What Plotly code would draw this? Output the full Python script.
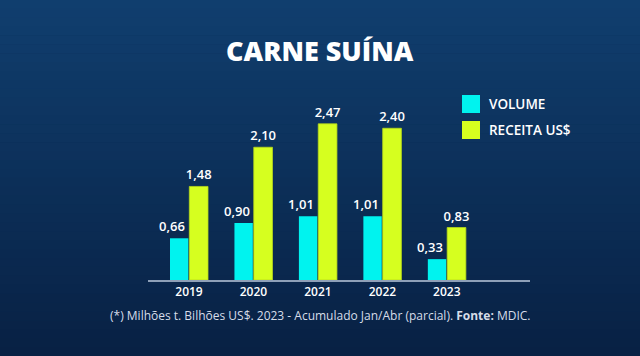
import plotly.graph_objects as go

years = ["2019", "2020", "2021", "2022", "2023"]
volume = [0.66, 0.90, 1.01, 1.01, 0.33]
receita = [1.48, 2.10, 2.47, 2.40, 0.83]
volume_labels = ["0,66", "0,90", "1,01", "1,01", "0,33"]
receita_labels = ["1,48", "2,10", "2,47", "2,40", "0,83"]
series_names = ["VOLUME", "RECEITA US$"]

CYAN = "#00f3ef"
LIME = "#d6ff1f"
FONT = "Open Sans"

x_idx = list(range(len(years)))
CY_OFF, CY_W = -0.295, 0.285

fig = go.Figure()
fig.add_trace(go.Bar(
    x=x_idx, y=volume, name=series_names[0], marker_color=CYAN,
    marker_line_width=0, width=CY_W, offset=CY_OFF,
    showlegend=False,
))
fig.add_trace(go.Bar(
    x=x_idx, y=receita, name=series_names[1], marker_color=LIME,
    marker_line=dict(color="#b8d81a", width=0.8), width=0.29, offset=0.005,
    text=receita_labels, textposition="outside", constraintext="none",
    textfont=dict(color="white", size=13, family=FONT, weight=600),
    cliponaxis=False, showlegend=False,
))

annotations = []
for xi, v, lab in zip(x_idx, volume, volume_labels):
    annotations.append(dict(xref="x", yref="y", x=xi + CY_OFF + CY_W / 2, y=v,
                            text=lab, showarrow=False, xanchor="center", yanchor="bottom",
                            xshift=-7, yshift=1,
                            font=dict(color="white", size=13, family=FONT, weight=600)))

# background gradient (decorative)
shapes = []
n = 40
top = (16, 62, 110)
bot = (8, 33, 68)
for i in range(n):
    t = i / (n - 1)
    c = tuple(int(round(top[k] + (bot[k] - top[k]) * t)) for k in range(3))
    shapes.append(dict(type="rect", xref="paper", yref="paper", layer="below",
                       x0=-0.5, x1=1.5,
                       y0=1 + 60/220 - (i + 1) * (356/220) / n - 0.001,
                       y1=1 + 60/220 - i * (356/220) / n + 0.001,
                       fillcolor="rgb(%d,%d,%d)" % c, line_width=0))

plot_w = 382.0
plot_h = 220.0
def px_x(px):
    return (px - 148) / plot_w
def px_y(py):
    return (280 - py) / plot_h

for color, label, ytop in [(CYAN, series_names[0], 95), (LIME, series_names[1], 121)]:
    shapes.append(dict(type="rect", xref="paper", yref="paper",
                       x0=px_x(462), x1=px_x(480), y0=px_y(ytop + 18), y1=px_y(ytop),
                       fillcolor=color, line_width=0))
    annotations.append(dict(xref="paper", yref="paper", x=px_x(487), y=px_y(ytop + 9),
                            text=label, showarrow=False, xanchor="left", yanchor="middle",
                            font=dict(color="white", size=13.5, family=FONT, weight=600)))

annotations.append(dict(xref="paper", yref="paper", x=px_x(320), y=px_y(50),
                        text="CARNE SUÍNA", showarrow=False,
                        xanchor="center", yanchor="middle",
                        font=dict(color="white", size=27, family=FONT, weight=800)))
annotations.append(dict(xref="paper", yref="paper", x=px_x(320), y=px_y(315),
                        text="(*) Milhões t. Bilhões US$. 2023 - Acumulado Jan/Abr (parcial). <b>Fonte:</b> MDIC.",
                        showarrow=False, xanchor="center", yanchor="middle",
                        font=dict(color="#d6dde8", size=12, family=FONT)))

fig.update_layout(
    width=640, height=356,
    margin=dict(l=148, r=110, t=60, b=76),
    paper_bgcolor="#0b2c55", plot_bgcolor="rgba(0,0,0,0)",
    shapes=shapes, annotations=annotations,
    barmode="overlay", showlegend=False,
    font=dict(family=FONT, color="white"),
)
fig.update_xaxes(
    range=[-0.636, 5.29], tickmode="array", tickvals=x_idx, ticktext=years,
    showgrid=False, zeroline=False, showline=True, linecolor="#8ea0b8", linewidth=1.5,
    ticks="", tickfont=dict(color="white", size=12, family=FONT, weight=600),
)
fig.update_yaxes(range=[0, 3.48], visible=False, showgrid=False, zeroline=False)

fig.write_html("out.html", config={"displayModeBar": False},
               post_script="document.body.style.margin='0';")
